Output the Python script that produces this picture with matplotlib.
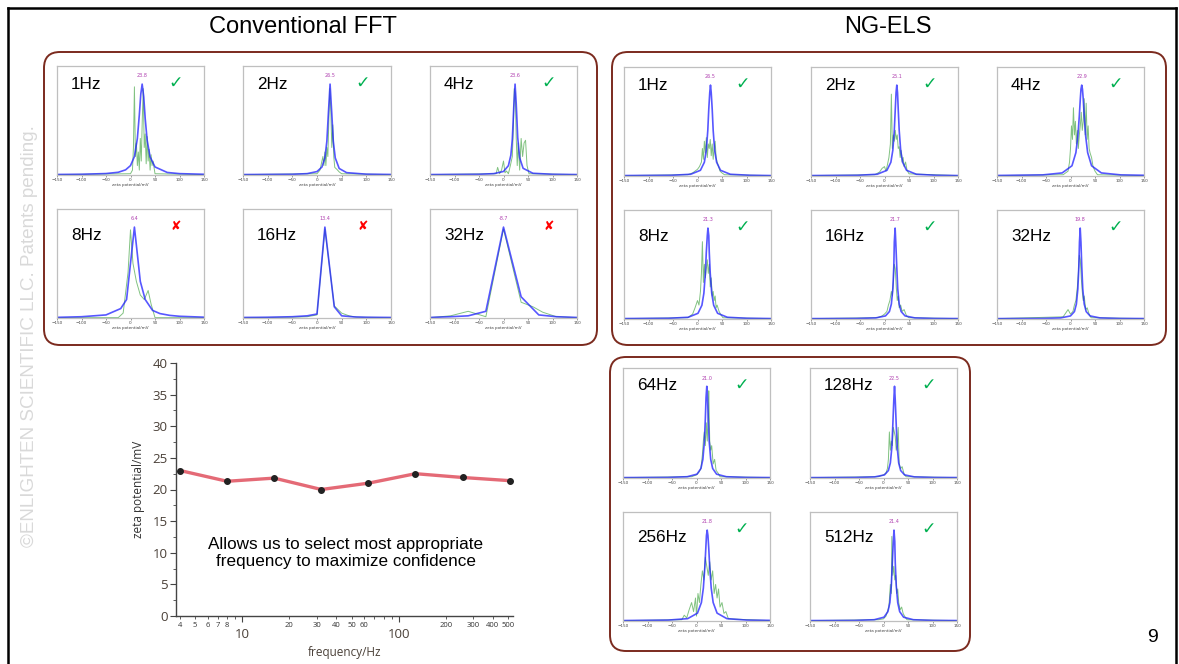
import numpy as np
import matplotlib
matplotlib.use("Agg")
import matplotlib.pyplot as plt
from matplotlib.patches import FancyBboxPatch
from matplotlib.ticker import FixedLocator, FixedFormatter

W, H = 1179, 664

# ---- summary line chart (zeta potential vs frequency) ----
freq_hz = [4, 8, 16, 32, 64, 128, 256, 512]
zeta_mv = [23.0, 21.3, 21.8, 20.0, 21.0, 22.5, 21.9, 21.4]
minor_ticks = [4, 5, 6, 7, 8, 9, 20, 30, 40, 50, 60, 70, 80, 90, 200, 300, 400, 500]
minor_labels = ["4", "5", "6", "7", "8", "", "20", "30", "40", "50", "60", "", "", "",
                "200", "300", "400", "500"]

# ---- Conventional FFT spectra ----
conv_hz = ["1Hz", "2Hz", "4Hz", "8Hz", "16Hz", "32Hz"]
conv_peak = ["23.8", "26.5", "23.6", "6.4", "13.4", "-8.7"]
conv_ok = [True, True, True, False, False, False]
conv_blue_x = [
    [-150, -100, -50, -25, -10, 0, 8, 14, 18, 21, 23.8, 27, 30, 34, 40, 50, 75, 100, 150],
    [-150, -50, -20, 0, 10, 16, 20, 23, 26.5, 30, 33, 37, 45, 60, 100, 150],
    [-150, -50, -20, 0, 10, 15, 18, 21, 23.6, 26, 29, 33, 40, 60, 100, 150],
    [-150, -100, -50, -20, -8, 8, 20, 30, 45, 60, 80, 100, 150],
    [-150, -100, -50, -20, 0, 16, 35, 50, 75, 100, 150],
    [-150, -108, -72, -36, 0, 36, 72, 108, 150],
]
conv_blue_y = [
    [0.002, 0.004, 0.012, 0.026, 0.053, 0.10, 0.20, 0.40, 0.66, 0.89, 1.0, 0.86, 0.62, 0.38, 0.196, 0.085, 0.024, 0.011, 0.004],
    [0.001, 0.004, 0.011, 0.034, 0.084, 0.185, 0.37, 0.67, 1.0, 0.67, 0.37, 0.185, 0.068, 0.022, 0.005, 0.002],
    [0.001, 0.004, 0.011, 0.035, 0.099, 0.215, 0.39, 0.75, 1.0, 0.78, 0.41, 0.186, 0.07, 0.015, 0.004, 0.001],
    [0.003, 0.01, 0.03, 0.1, 0.2, 1.0, 0.4, 0.2, 0.08, 0.045, 0.025, 0.015, 0.005],
    [0.002, 0.004, 0.01, 0.02, 0.04, 1.0, 0.12, 0.02, 0.008, 0.004, 0.002],
    [0.002, 0.01, 0.02, 0.07, 1.0, 0.23, 0.03, 0.01, 0.002],
]
conv_green_x = [
    [-150, 0, 4, 6, 8, 10, 12, 14, 16, 18, 20, 22, 24, 26, 28, 30, 32, 34, 36, 38, 40, 42, 44, 46, 50, 150],
    [-150, 0, 6, 10, 12, 14, 16, 18, 20, 22, 24, 26, 28, 30, 32, 34, 36, 40, 45, 50, 150],
    [-150, -15, -12, -8, -4, 0, 3, 6, 10, 14, 18, 20, 22, 24, 26, 28, 30, 33, 36, 39, 42, 45, 48, 52, 150],
    [-150, -25, -15, -5, 0, 5, 12, 20, 28, 36, 42, 50, 150],
    [-150, -50, -20, 0, 16, 35, 50, 65, 80, 150],
    [-150, -108, -72, -36, 0, 36, 60, 80, 108, 150],
]
conv_green_y = [
    [0, 0.01, 0.05, 0.3, 0.97, 0.2, 0.35, 0.1, 0.25, 0.05, 0.4, 0.15, 0.6, 0.95, 0.3, 0.45, 0.12, 0.42, 0.15, 0.28, 0.05, 0.22, 0.1, 0.15, 0.01, 0],
    [0, 0.01, 0.05, 0.15, 0.2, 0.1, 0.25, 0.1, 0.3, 0.2, 0.6, 0.95, 0.7, 0.3, 0.55, 0.2, 0.08, 0.06, 0.03, 0.01, 0],
    [0, 0.01, 0.08, 0.01, 0.05, 0.15, 0.02, 0.04, 0.01, 0.1, 0.2, 0.5, 0.95, 0.9, 0.4, 0.1, 0.35, 0.05, 0.4, 0.2, 0.35, 0.38, 0.1, 0.01, 0],
    [0, 0, 0.05, 0.5, 0.97, 0.6, 0.4, 0.25, 0.2, 0.3, 0.15, 0, 0],
    [0, 0.005, 0.01, 0.03, 0.98, 0.13, 0.05, 0.02, 0.005, 0],
    [0, 0.02, 0.07, 0.01, 0.98, 0.17, 0.12, 0.06, 0.01, 0],
]

# ---- NG-ELS spectra ----
ng_hz = ["1Hz", "2Hz", "4Hz", "8Hz", "16Hz", "32Hz", "64Hz", "128Hz", "256Hz", "512Hz"]
ng_peak = ["26.5", "25.1", "22.9", "21.3", "21.7", "19.8", "21.0", "22.5", "21.8", "21.4"]
ng_blue_x = [
    [-150, -54, -14, 6, 14, 18, 21, 23, 25, 26.5, 28, 30, 32, 35, 39, 47, 67, 107, 150],
    [-150, -55, -15, 5, 13, 17, 20, 22, 23.6, 25.1, 26.6, 28, 30, 33, 37, 45, 65, 105, 150],
    [-150, -57, -17, 3, 11, 15, 18, 20, 21.4, 22.9, 24.4, 26, 28, 31, 35, 43, 63, 103, 150],
    [-150, -59, -19, 1, 9, 13, 16, 18, 20, 21.3, 23, 24, 26, 29, 33, 41, 61, 101, 150],
    [-150, -58, -18, 2, 10, 14, 17, 19, 20, 21.7, 23, 25, 27, 30, 34, 42, 62, 102, 150],
    [-150, -60, -20, 0, 8, 12, 15, 17, 18.3, 19.8, 21.3, 23, 25, 28, 32, 40, 60, 100, 150],
    [-150, -59, -19, 1, 9, 13, 16, 18, 19.5, 21, 22.5, 24, 26, 29, 33, 41, 61, 101, 150],
    [-150, -58, -18, 2, 10, 14, 17, 19, 21, 22.5, 24, 26, 28, 31, 35, 43, 63, 103, 150],
    [-150, -58, -18, 2, 10, 14, 17, 19, 20.3, 21.8, 23.3, 25, 27, 30, 34, 42, 62, 102, 150],
    [-150, -59, -19, 1, 9, 13, 16, 18, 20, 21.4, 23, 24, 26, 29, 33, 41, 61, 101, 150],
]
ng_blue_y = [
    [0.001, 0.004, 0.015, 0.059, 0.148, 0.281, 0.5, 0.735, 0.917, 1, 0.917, 0.735, 0.5, 0.281, 0.148, 0.059, 0.015, 0.004, 0.001],
    [0.001, 0.004, 0.015, 0.059, 0.148, 0.281, 0.5, 0.735, 0.917, 1, 0.917, 0.735, 0.5, 0.281, 0.148, 0.059, 0.015, 0.004, 0.001],
    [0.002, 0.008, 0.03, 0.109, 0.254, 0.434, 0.66, 0.845, 0.956, 1, 0.956, 0.845, 0.66, 0.434, 0.254, 0.109, 0.03, 0.008, 0.004],
    [0.001, 0.004, 0.015, 0.059, 0.148, 0.281, 0.5, 0.735, 0.917, 1, 0.917, 0.735, 0.5, 0.281, 0.148, 0.059, 0.015, 0.004, 0.001],
    [0.0004, 0.002, 0.008, 0.03, 0.078, 0.161, 0.329, 0.576, 0.845, 1, 0.845, 0.576, 0.329, 0.161, 0.078, 0.03, 0.008, 0.002, 0.001],
    [0.0004, 0.002, 0.008, 0.03, 0.078, 0.161, 0.329, 0.576, 0.845, 1, 0.845, 0.576, 0.329, 0.161, 0.078, 0.03, 0.008, 0.002, 0.001],
    [0.0005, 0.0025, 0.01, 0.038, 0.1, 0.2, 0.39, 0.64, 0.877, 1, 0.877, 0.64, 0.39, 0.2, 0.1, 0.038, 0.01, 0.0025, 0.001],
    [0.0004, 0.002, 0.008, 0.03, 0.078, 0.161, 0.329, 0.576, 0.845, 1, 0.845, 0.576, 0.329, 0.161, 0.078, 0.03, 0.008, 0.002, 0.001],
    [0.001, 0.006, 0.022, 0.083, 0.2, 0.36, 0.59, 0.8, 0.941, 1, 0.941, 0.8, 0.59, 0.36, 0.2, 0.083, 0.022, 0.006, 0.003],
    [0.0005, 0.0025, 0.01, 0.038, 0.1, 0.2, 0.39, 0.64, 0.877, 1, 0.877, 0.64, 0.39, 0.2, 0.1, 0.038, 0.01, 0.0025, 0.001],
]
ng_green_x = [
    [-150, -20, -10, -5, 0, 4, 8, 10, 12, 14, 16, 18, 20, 22, 24, 26, 28, 30, 32, 34, 36, 38, 40, 43, 46, 50, 55, 150],
    [-150, -20, -10, -5, 0, 3, 6, 9, 12, 14, 16, 18, 20, 22, 24, 26, 28, 30, 32, 34, 36, 38, 40, 43, 46, 50, 150],
    [-150, -15, -5, -2, 0, 2, 4, 6, 8, 10, 12, 14, 16, 18, 20, 22, 24, 26, 28, 30, 32, 34, 36, 38, 40, 43, 46, 50, 55, 150],
    [-150, -20, -10, -5, 0, 3, 6, 8, 10, 12, 14, 16, 18, 20, 22, 24, 26, 28, 30, 32, 34, 36, 38, 40, 44, 48, 52, 150],
    [-150, -15, -5, 0, 5, 8, 11, 14, 16, 18, 20, 22, 24, 26, 28, 30, 33, 36, 40, 45, 50, 150],
    [-150, -15, -10, -5, 0, 5, 8, 11, 14, 16, 18, 20, 22, 24, 26, 28, 31, 34, 38, 42, 150],
    [-150, -10, 0, 5, 9, 12, 14, 16, 18, 20, 22, 24, 25, 27, 29, 31, 34, 37, 40, 44, 48, 150],
    [-150, -10, 0, 5, 8, 10, 12, 14, 16, 18, 20, 22, 24, 26, 28, 30, 32, 35, 38, 42, 46, 150],
    [-150, -30, -25, -20, -15, -10, -6, -2, 0, 3, 6, 9, 12, 15, 18, 21, 24, 27, 30, 33, 36, 39, 42, 45, 48, 52, 56, 60, 65, 150],
    [-150, -10, 0, 5, 8, 11, 14, 16, 17, 19, 21, 23, 25, 27, 29, 31, 34, 37, 40, 44, 48, 150],
]
ng_green_y = [
    [0, 0.01, 0.03, 0.05, 0.07, 0.1, 0.15, 0.3, 0.18, 0.38, 0.25, 0.42, 0.2, 0.35, 0.3, 0.4, 0.22, 0.35, 0.18, 0.3, 0.38, 0.2, 0.15, 0.1, 0.05, 0.03, 0.01, 0],
    [0, 0.01, 0.04, 0.08, 0.1, 0.05, 0.12, 0.2, 0.35, 0.9, 0.3, 0.45, 0.38, 0.5, 0.4, 0.45, 0.3, 0.32, 0.2, 0.28, 0.15, 0.2, 0.1, 0.15, 0.06, 0.02, 0],
    [0, 0.01, 0.05, 0.15, 0.3, 0.55, 0.4, 0.75, 0.45, 0.6, 0.35, 0.5, 0.3, 0.45, 0.55, 0.7, 0.5, 0.6, 0.85, 0.45, 0.8, 0.4, 0.55, 0.3, 0.25, 0.2, 0.1, 0.05, 0.01, 0],
    [0, 0.01, 0.05, 0.12, 0.2, 0.15, 0.3, 0.5, 0.85, 0.4, 0.6, 0.45, 0.55, 0.65, 0.5, 0.6, 0.35, 0.45, 0.25, 0.3, 0.2, 0.25, 0.12, 0.15, 0.08, 0.04, 0.01, 0],
    [0, 0.01, 0.03, 0.05, 0.08, 0.15, 0.2, 0.3, 0.25, 0.4, 0.6, 0.55, 0.35, 0.2, 0.25, 0.12, 0.15, 0.08, 0.1, 0.03, 0.01, 0],
    [0, 0.02, 0.06, 0.1, 0.05, 0.08, 0.15, 0.2, 0.35, 0.5, 0.7, 0.65, 0.45, 0.3, 0.2, 0.25, 0.1, 0.12, 0.05, 0.01, 0],
    [0, 0.01, 0.03, 0.06, 0.1, 0.25, 0.4, 0.5, 0.35, 0.6, 0.4, 0.7, 0.95, 0.4, 0.3, 0.35, 0.15, 0.2, 0.08, 0.05, 0.01, 0],
    [0, 0.01, 0.03, 0.05, 0.1, 0.2, 0.5, 0.3, 0.4, 0.35, 0.55, 0.5, 0.45, 0.3, 0.35, 0.55, 0.15, 0.1, 0.12, 0.04, 0.01, 0],
    [0, 0.01, 0.06, 0.03, 0.12, 0.2, 0.1, 0.25, 0.05, 0.3, 0.2, 0.4, 0.55, 0.45, 0.7, 0.6, 0.5, 0.65, 0.45, 0.55, 0.3, 0.4, 0.25, 0.35, 0.15, 0.2, 0.08, 0.1, 0.02, 0],
    [0, 0.01, 0.02, 0.05, 0.1, 0.15, 0.4, 0.3, 0.93, 0.5, 0.6, 0.45, 0.5, 0.3, 0.35, 0.2, 0.12, 0.15, 0.08, 0.04, 0.01, 0],
]

# panel frames in pixels: left, top, right, bottom, label height (axes fraction)
conv_boxes = [(57, 66, 204, 175, 0.83), (243, 66, 391, 175, 0.83), (430, 66, 577, 175, 0.83),
              (57, 209, 204, 318, 0.76), (243, 209, 391, 318, 0.76), (430, 209, 577, 318, 0.76)]
ng_boxes = [(624, 67, 771, 176, 0.83), (811, 67, 958, 176, 0.83), (997, 67, 1144, 176, 0.83),
            (624, 210, 771, 319, 0.76), (811, 210, 958, 319, 0.76), (997, 210, 1144, 319, 0.76),
            (623, 368, 770, 478, 0.84), (810, 368, 957, 478, 0.84),
            (623, 512, 770, 621, 0.77), (810, 512, 957, 621, 0.77)]

SANS = "Liberation Sans"

fig = plt.figure(figsize=(W / 100, H / 100), dpi=100)

# overlay in pixel coordinates for frames, boxes and slide text
ov = fig.add_axes([0, 0, 1, 1])
ov.set_xlim(0, W)
ov.set_ylim(H, 0)
ov.axis("off")
ov.plot([8, 8], [8, H], color="black", lw=1.8)
ov.plot([8, 1176], [8, 8], color="black", lw=1.8)
ov.plot([1176, 1176], [8, H], color="black", lw=1.8)
for (x0, y0, x1, y1) in [(44, 52, 597, 345), (612, 52, 1166, 345), (610, 357, 970, 651)]:
    ov.add_patch(FancyBboxPatch((x0, y0), x1 - x0, y1 - y0,
                                boxstyle="round,pad=0,rounding_size=16",
                                fc="none", ec="#7B2A1E", lw=1.4))
ov.text(303, 27, "Conventional FFT", fontsize=17, family=SANS, ha="center", va="center")
ov.text(888, 27, "NG-ELS", fontsize=17, family=SANS, ha="center", va="center")
ov.text(30, 336, "\u00a9ENLIGHTEN SCIENTIFIC LLC. Patents pending.", rotation=90,
        fontsize=13.6, family=SANS, color="#D9D9D9", ha="center", va="center")
ov.text(1153, 638, "9", fontsize=14, family=SANS, ha="center", va="center")
ov.text(346, 553, "Allows us to select most appropriate\nfrequency to maximize confidence",
        fontsize=12.3, family=SANS, ha="center", va="center", linespacing=1.15)


def spectrum(box, bx, by, gx, gy, hz, peak, ok):
    l, t, r, b, ly = box
    ax = fig.add_axes([l / W, 1 - b / H, (r - l) / W, (b - t) / H])
    ax.plot(gx, gy, color="#2E9A2E", lw=0.7, alpha=0.6)
    ax.plot(bx, by, color="#1F1FFF", lw=1.2, alpha=0.75)
    ax.set_xlim(-150, 150)
    ax.set_ylim(-0.004, 1.2)
    ax.set_xticks([-150, -100, -50, 0, 50, 100, 150])
    ax.set_yticks([])
    ax.tick_params(labelsize=3, length=1.2, width=0.4, pad=1, colors="#444444")
    ax.set_xlabel("zeta potential/mV", fontsize=3, labelpad=1, color="#444444")
    for s in ax.spines.values():
        s.set_color("#BFBFBF")
        s.set_linewidth(0.9)
    px = bx[int(np.argmax(by))]
    ax.text(px, 1.09, peak, fontsize=3.5, color="#B040B0", ha="center", va="center")
    ax.text(0.095, ly, hz, transform=ax.transAxes, fontsize=12.3, family=SANS, va="center")
    if ok:
        ax.text(0.81, 0.85, "\u2713", transform=ax.transAxes, fontsize=12.5,
                color="#00B050", ha="center", va="center", family="DejaVu Sans",
                fontweight="bold")
    else:
        ax.text(0.81, 0.84, "\u2718", transform=ax.transAxes, fontsize=9,
                color="#FF0000", ha="center", va="center", family="DejaVu Sans")


for i in range(len(conv_hz)):
    spectrum(conv_boxes[i], conv_blue_x[i], conv_blue_y[i], conv_green_x[i], conv_green_y[i],
             conv_hz[i], conv_peak[i], conv_ok[i])
for i in range(len(ng_hz)):
    spectrum(ng_boxes[i], ng_blue_x[i], ng_blue_y[i], ng_green_x[i], ng_green_y[i],
             ng_hz[i], ng_peak[i], True)

# summary chart
l, t, r, b = 176, 363, 513, 616
ax = fig.add_axes([l / W, 1 - b / H, (r - l) / W, (b - t) / H])
ax.patch.set_alpha(0)
ax.plot(freq_hz, zeta_mv, color="#E0505E", lw=2.4, alpha=0.85, zorder=2)
ax.plot(freq_hz, zeta_mv, "o", color="#222222", ms=4, zorder=3)
ax.set_xscale("log")
ax.set_xlim(3.77, 538)
ax.set_ylim(0, 40)
ax.set_yticks(np.arange(0, 41, 5))
ax.yaxis.set_minor_locator(FixedLocator(np.arange(2.5, 40, 5)))
ax.xaxis.set_major_locator(FixedLocator([10, 100]))
ax.xaxis.set_major_formatter(FixedFormatter(["10", "100"]))
ax.xaxis.set_minor_locator(FixedLocator(minor_ticks))
ax.xaxis.set_minor_formatter(FixedFormatter(minor_labels))
for s in ["top", "right"]:
    ax.spines[s].set_visible(False)
for s in ["left", "bottom"]:
    ax.spines[s].set_color("#444444")
    ax.spines[s].set_linewidth(1.0)
ax.tick_params(axis="y", which="major", labelsize=9.5, length=4, color="#444444",
               labelcolor="#4A4038", pad=2)
ax.tick_params(axis="y", which="minor", length=2, color="#444444")
ax.tick_params(axis="x", which="major", labelsize=9.5, length=4, color="#444444",
               labelcolor="#4A4038", pad=5)
ax.tick_params(axis="x", which="minor", labelsize=5.5, length=2.5, color="#444444",
               labelcolor="#333333", pad=2)
for lab in ax.get_xticklabels(which="both") + ax.get_yticklabels():
    lab.set_family("Open Sans")
ax.set_xlabel("frequency/Hz", fontsize=8.5, family="Open Sans", color="#4A4038", labelpad=3)
ax.set_ylabel("zeta potential/mV", fontsize=8.5, family="Open Sans", color="#333333", labelpad=5)

fig.savefig("out.png", dpi=100)
